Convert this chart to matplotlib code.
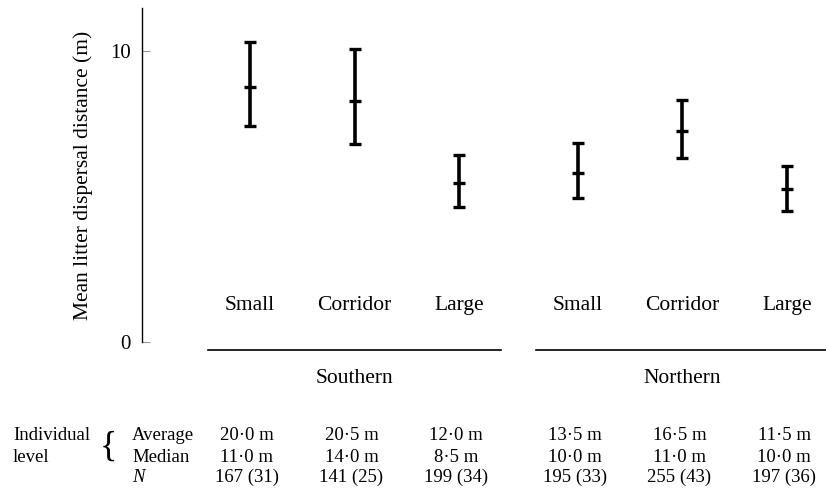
import matplotlib
matplotlib.use("Agg")
import matplotlib.pyplot as plt
import matplotlib.transforms as mtransforms

plt.rcParams['font.family'] = ['Liberation Serif', 'DejaVu Serif']

# data
habitats = ["Small", "Corridor", "Large", "Small", "Corridor", "Large"]
regions = ["Southern", "Northern"]
means = [8.75, 8.29, 5.47, 5.81, 7.24, 5.25]
upper = [10.30, 10.08, 6.43, 6.83, 8.31, 6.06]
lower = [7.43, 6.80, 4.64, 4.95, 6.32, 4.51]
averages = ["20·0 m", "20·5 m", "12·0 m", "13·5 m", "16·5 m", "11·5 m"]
medians = ["11·0 m", "14·0 m", "8·5 m", "10·0 m", "11·0 m", "10·0 m"]
n_labels = ["167 (31)", "141 (25)", "199 (34)", "195 (33)", "255 (43)", "197 (36)"]

W, H = 826, 497
fig = plt.figure(figsize=(W / 100, H / 100), dpi=100)
ax = fig.add_axes([142 / W, 155 / H, (W - 142) / W, 334 / H])

# x positions: two groups of three, with a wider gap between groups
gap = 1.13
xpos = [i + (gap - 1 if i >= 3 else 0) for i in range(len(habitats))]

err_lo = [m - l for m, l in zip(means, lower)]
err_hi = [u - m for m, u in zip(means, upper)]
ax.errorbar(xpos, means, yerr=[err_lo, err_hi], fmt='_', color='black',
            ecolor='black', elinewidth=2.6, capsize=4, capthick=2.8,
            markersize=8, markeredgewidth=2.4)

ax.set_xlim(-1.03, 5.50)
ax.set_ylim(0, 11.48)
for s in ['top', 'right', 'bottom']:
    ax.spines[s].set_visible(False)
ax.spines['left'].set_linewidth(1.0)
ax.set_xticks([])
ax.set_yticks([0, 10])
ax.set_yticklabels(["0", "10"], fontsize=15)
ax.tick_params(axis='y', direction='in', length=6, width=0.8, color='#999999', pad=8)
ax.set_ylabel("Mean litter dispersal distance (m)", fontsize=15.5, labelpad=12)

# blended: x in data units, y in pixels from the top of the figure
tr = mtransforms.blended_transform_factory(ax.transData, fig.transFigure)
def fy(p):
    return 1 - p / H

for x, name in zip(xpos, habitats):
    ax.text(x, fy(310), name, transform=tr, ha='center', va='baseline', fontsize=15.5)

for g, reg in enumerate(regions):
    xc = xpos[g * 3 + 1]
    ax.plot([xc - 1.4, xc + 1.4], [fy(350), fy(350)], transform=tr, color='black',
            lw=1.2, clip_on=False)
    ax.text(xc, fy(383), reg, transform=tr, ha='center', va='baseline', fontsize=15.5)

rows = [averages, medians, n_labels]
row_y = [440, 462, 482]
for vals, py in zip(rows, row_y):
    for x, v in zip(xpos, vals):
        ax.text(x - 0.03, fy(py), v, transform=tr, ha='center', va='baseline', fontsize=13.5)

fig.text(13 / W, fy(440), "Individual", ha='left', va='baseline', fontsize=13.5)
fig.text(13 / W, fy(462), "level", ha='left', va='baseline', fontsize=13.5)
fig.text(108 / W, fy(447), "{", ha='center', va='center', fontsize=26)
fig.text(132 / W, fy(440), "Average", ha='left', va='baseline', fontsize=13.5)
fig.text(132 / W, fy(462), "Median", ha='left', va='baseline', fontsize=13.5)
fig.text(132 / W, fy(482), "N", ha='left', va='baseline', fontsize=13.5, style='italic')

fig.savefig("out.png", dpi=100)
